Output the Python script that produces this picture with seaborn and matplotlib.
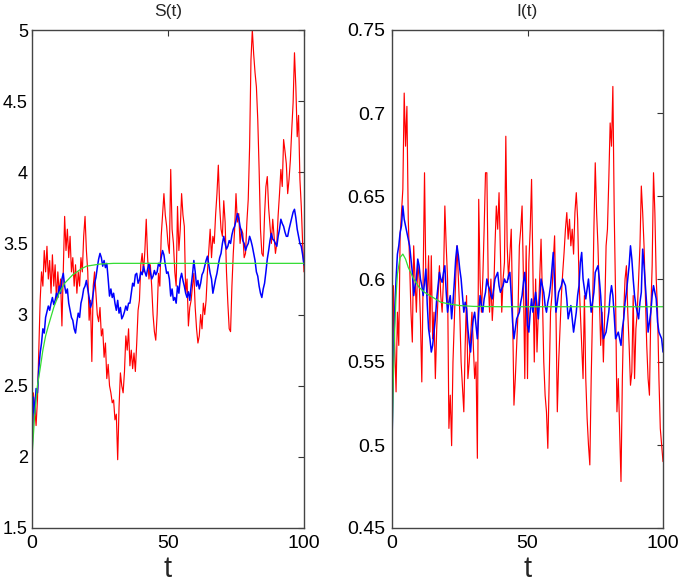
# encoding: utf-8
# Libraries
import matplotlib
matplotlib.use("Agg")
import matplotlib.pyplot as plt
import seaborn as sns
import numpy as np
import pandas as pd

# time grid of the simulated paths (step 0.5)
t = np.arange(0, 100.5, 0.5)

# S(t): stochastic path with large noise (red)
s_red = [
    2.0, 2.45, 2.35, 2.22, 2.40, 2.75, 3.1, 3.3, 3.2, 3.45,
    3.3, 3.48, 3.25, 3.38, 3.15, 3.42, 3.2, 3.35, 3.1, 3.3,
    3.15, 3.25, 2.92, 3.3, 3.69, 3.45, 3.6, 3.4, 3.55, 3.3,
    3.4, 3.2, 3.35, 3.15, 3.3, 3.2, 3.4, 3.3, 3.55, 3.69,
    3.45, 3.3, 2.96, 3.1, 2.67, 3.2, 3.3, 3.15, 3.0, 2.95,
    3.05, 2.85, 2.9, 2.7, 2.8, 2.55, 2.65, 2.5, 2.45, 2.38,
    2.4, 2.26, 2.3, 1.98, 2.35, 2.59, 2.5, 2.45, 2.6, 2.85,
    2.75, 2.9, 2.64, 2.75, 2.62, 2.73, 2.6, 2.8, 3.03, 3.1,
    3.35, 3.43, 3.3, 3.45, 3.67, 3.4, 3.25, 3.35, 3.2, 3.0,
    2.88, 2.82, 3.0, 3.29, 3.2, 3.55, 3.7, 3.85, 3.7, 3.62,
    3.5, 3.43, 4.02, 3.6, 3.5, 3.3, 3.2, 3.76, 3.45, 3.6,
    3.85, 3.7, 3.62, 3.15, 3.25, 2.92, 3.05, 3.1, 3.2, 3.29,
    3.05, 2.9, 2.8, 2.85, 3.0, 2.9, 3.08, 3.0, 3.1, 3.3,
    3.45, 3.6, 3.4, 3.55, 3.5, 3.7, 3.85, 4.05, 3.76, 3.6,
    3.55, 3.8, 3.65, 3.3, 3.08, 2.9, 2.88, 3.2, 3.43, 3.6,
    3.85, 3.65, 3.71, 3.5, 3.6, 3.57, 3.4, 3.43, 3.65, 3.81,
    4.18, 4.79, 5.0, 4.83, 4.7, 4.6, 4.37, 4.02, 3.6, 3.43,
    3.41, 3.7, 3.9, 3.97, 3.75, 3.62, 3.5, 3.67, 3.55, 3.43,
    3.5, 3.7, 3.85, 4.02, 3.9, 4.23, 4.15, 4.06, 3.85, 3.95,
    4.09, 4.3, 4.49, 4.84, 4.6, 4.25, 4.4, 3.95, 3.76, 3.5,
    3.3,
]

# S(t): stochastic path with small noise (blue)
s_blue = [
    2.0, 2.42, 2.3, 2.48, 2.45, 2.62, 2.73, 2.8, 2.9, 2.87,
    2.98, 3.02, 3.06, 3.03, 3.08, 3.12, 3.07, 3.1, 3.15, 3.12,
    3.2, 3.15, 3.25, 3.29, 3.2, 3.15, 3.18, 3.08, 3.03, 2.98,
    2.96, 2.9, 2.87, 2.95, 3.01, 2.98, 3.08, 3.12, 3.18, 3.2,
    3.24, 3.18, 3.12, 3.05, 3.08, 3.15, 3.22, 3.26, 3.33, 3.39,
    3.43, 3.4, 3.34, 3.38, 3.33, 3.36, 3.25, 3.13, 3.18, 3.12,
    3.15, 3.08, 3.03, 3.1, 3.01, 3.05, 2.97, 2.99, 3.02, 3.06,
    3.03, 3.08, 3.08, 3.15, 3.22, 3.2, 3.28, 3.29, 3.22, 3.245,
    3.3, 3.28, 3.34, 3.3, 3.27, 3.32, 3.36, 3.3, 3.25, 3.27,
    3.31, 3.28, 3.3, 3.36, 3.34, 3.4, 3.45, 3.42, 3.35, 3.29,
    3.3, 3.25, 3.13, 3.18, 3.1, 3.12, 3.08, 3.2, 3.15, 3.25,
    3.29, 3.24, 3.2, 3.15, 3.12, 3.16, 3.1, 3.2, 3.28, 3.38,
    3.3, 3.2, 3.24, 3.18, 3.22, 3.28, 3.3, 3.34, 3.38, 3.41,
    3.35, 3.29, 3.25, 3.15, 3.2, 3.25, 3.29, 3.35, 3.4, 3.43,
    3.5, 3.55, 3.5, 3.46, 3.48, 3.52, 3.5, 3.56, 3.6, 3.62,
    3.66, 3.71, 3.68, 3.62, 3.58, 3.52, 3.5, 3.45, 3.48, 3.5,
    3.55, 3.52, 3.48, 3.43, 3.38, 3.3, 3.27, 3.2, 3.15, 3.12,
    3.18, 3.22, 3.3, 3.39, 3.45, 3.52, 3.57, 3.53, 3.52, 3.5,
    3.48, 3.55, 3.6, 3.67, 3.64, 3.62, 3.58, 3.55, 3.55, 3.6,
    3.64, 3.68, 3.72, 3.74, 3.68, 3.6, 3.55, 3.5, 3.48, 3.42,
    3.35,
]

# S(t): deterministic solution (green)
s_green_t = [0, 1, 2, 3, 4, 5, 6, 8, 10, 12, 15, 18, 20, 25, 30, 40, 100]
s_green = [2.0, 2.3, 2.5, 2.62, 2.75, 2.85, 2.92, 3.05, 3.15, 3.22, 3.28,
           3.32, 3.34, 3.355, 3.36, 3.36, 3.36]

# I(t): stochastic path with large noise (red)
i_red = [
    0.5, 0.596, 0.56, 0.532, 0.58, 0.56, 0.626, 0.64, 0.654, 0.712,
    0.68, 0.704, 0.636, 0.61, 0.58, 0.562, 0.62, 0.6, 0.58, 0.61,
    0.6, 0.575, 0.538, 0.6, 0.664, 0.6, 0.59, 0.614, 0.568, 0.614,
    0.564, 0.58, 0.54, 0.57, 0.59, 0.608, 0.59, 0.58, 0.6, 0.644,
    0.62, 0.6, 0.51, 0.53, 0.4996, 0.55, 0.575, 0.6, 0.62, 0.6,
    0.58, 0.55, 0.535, 0.52, 0.56, 0.59, 0.54, 0.55, 0.565, 0.58,
    0.56, 0.54, 0.55, 0.492, 0.648, 0.6, 0.58, 0.6, 0.63, 0.664,
    0.664, 0.6, 0.58, 0.6, 0.575, 0.59, 0.62, 0.644, 0.63, 0.652,
    0.615, 0.58, 0.6, 0.61, 0.686, 0.62, 0.6, 0.615, 0.63, 0.58,
    0.524, 0.54, 0.56, 0.58, 0.62, 0.63, 0.644, 0.6, 0.54, 0.62,
    0.54, 0.61, 0.63, 0.66, 0.604, 0.55, 0.6, 0.556, 0.58, 0.6,
    0.624, 0.59, 0.55, 0.53, 0.52, 0.498, 0.54, 0.58, 0.59, 0.61,
    0.626, 0.58, 0.52, 0.55, 0.57, 0.59, 0.604, 0.616, 0.63, 0.64,
    0.624, 0.636, 0.62, 0.63, 0.615, 0.64, 0.652, 0.636, 0.6, 0.58,
    0.56, 0.54, 0.59, 0.54, 0.516, 0.5, 0.488, 0.54, 0.58, 0.63,
    0.67, 0.64, 0.62, 0.59, 0.56, 0.58, 0.55, 0.58, 0.62, 0.63,
    0.66, 0.694, 0.68, 0.716, 0.64, 0.59, 0.52, 0.54, 0.51, 0.478,
    0.54, 0.58, 0.6, 0.608, 0.58, 0.56, 0.536, 0.544, 0.59, 0.54,
    0.57, 0.58, 0.6, 0.62, 0.656, 0.64, 0.62, 0.59, 0.56, 0.54,
    0.53, 0.58, 0.608, 0.664, 0.64, 0.6, 0.58, 0.54, 0.51, 0.5,
    0.49,
]

# I(t): stochastic path with small noise (blue)
i_blue = [
    0.5, 0.55, 0.58, 0.6, 0.615, 0.62, 0.628, 0.632, 0.644, 0.636,
    0.632, 0.628, 0.624, 0.62, 0.612, 0.604, 0.59, 0.596, 0.6, 0.612,
    0.608, 0.6, 0.596, 0.59, 0.598, 0.606, 0.585, 0.57, 0.564, 0.556,
    0.56, 0.568, 0.576, 0.588, 0.596, 0.604, 0.6, 0.598, 0.604, 0.608,
    0.592, 0.58, 0.586, 0.59, 0.576, 0.586, 0.598, 0.612, 0.62, 0.614,
    0.606, 0.6, 0.59, 0.58, 0.586, 0.582, 0.57, 0.562, 0.556, 0.568,
    0.576, 0.58, 0.572, 0.564, 0.58, 0.59, 0.584, 0.58, 0.588, 0.592,
    0.6, 0.596, 0.594, 0.59, 0.588, 0.594, 0.6, 0.602, 0.604, 0.596,
    0.592, 0.594, 0.596, 0.6, 0.598, 0.598, 0.602, 0.604, 0.59, 0.574,
    0.564, 0.57, 0.576, 0.578, 0.58, 0.586, 0.59, 0.598, 0.604, 0.59,
    0.572, 0.568, 0.58, 0.588, 0.58, 0.586, 0.592, 0.584, 0.576, 0.588,
    0.6, 0.596, 0.592, 0.584, 0.58, 0.586, 0.59, 0.596, 0.606, 0.616,
    0.598, 0.58, 0.586, 0.592, 0.594, 0.596, 0.6, 0.598, 0.596, 0.588,
    0.576, 0.58, 0.584, 0.576, 0.568, 0.574, 0.58, 0.59, 0.596, 0.61,
    0.616, 0.6, 0.594, 0.588, 0.594, 0.6, 0.59, 0.58, 0.586, 0.592,
    0.604, 0.606, 0.608, 0.6, 0.59, 0.576, 0.564, 0.566, 0.568, 0.574,
    0.58, 0.59, 0.596, 0.59, 0.578, 0.564, 0.566, 0.568, 0.564, 0.56,
    0.57, 0.576, 0.586, 0.592, 0.6, 0.608, 0.62, 0.612, 0.6, 0.59,
    0.584, 0.58, 0.576, 0.586, 0.592, 0.618, 0.608, 0.596, 0.584, 0.568,
    0.574, 0.58, 0.59, 0.596, 0.592, 0.588, 0.574, 0.568, 0.566, 0.564,
    0.556,
]

# I(t): deterministic solution (green)
i_green_t = [0, 0.5, 1, 1.5, 2, 3, 4, 5, 6, 8, 10, 12, 15, 18, 21, 25, 30, 40, 100]
i_green = [0.5, 0.54, 0.57, 0.59, 0.603, 0.613, 0.615, 0.612, 0.607, 0.6,
           0.595, 0.592, 0.589, 0.586, 0.585, 0.584, 0.5835, 0.5833, 0.5833]

sns.set_style("white")
plt.rcParams["font.family"] = ["Liberation Sans", "DejaVu Sans"]

fig = plt.figure(figsize=(6.8, 5.85), dpi=100)
ax1 = fig.add_axes([32 / 680, 1 - 528 / 585, 272 / 680, 498 / 585])
ax2 = fig.add_axes([392 / 680, 1 - 528 / 585, 271 / 680, 498 / 585])

panels = [
    (ax1, s_red, s_blue, s_green_t, s_green, "S(t)", (1.5, 5), np.arange(1.5, 5.01, 0.5), 3),
    (ax2, i_red, i_blue, i_green_t, i_green, "I(t)", (0.45, 0.75), np.arange(0.45, 0.7501, 0.05), 5),
]

for ax, red, blue, gt, green, title, ylim, yticks, ypad in panels:
    sns.lineplot(x=t, y=red, color="#ff0000", linewidth=0.85, ax=ax, sort=False)
    sns.lineplot(x=t, y=blue, color="#0000ff", linewidth=1.1, ax=ax, sort=False)
    sns.lineplot(x=gt, y=green, color="#33dd33", linewidth=0.9, ax=ax, sort=False)

    ax.set_xlim(0, 100)
    ax.set_ylim(*ylim)
    ax.set_xticks([0, 50, 100])
    ax.set_yticks(yticks)
    ax.set_yticklabels([f"{v:g}" for v in np.round(yticks, 2)])
    ax.tick_params(direction="in", length=4, width=0.8, labelsize=14,
                   top=True, right=True, colors="#333333", labelcolor="black", pad=5)
    ax.tick_params(axis="y", pad=ypad)
    if ax is ax1:
        ax.tick_params(axis="y", labelsize=13)
    for spine in ax.spines.values():
        spine.set_color("#444444")
        spine.set_linewidth(1.0)
    ax.set_title(title, fontsize=12.5, pad=10)
    ax.set_xlabel("t", fontsize=21, labelpad=2)
    ax.set_ylabel("")

fig.savefig("out.png", dpi=100)
